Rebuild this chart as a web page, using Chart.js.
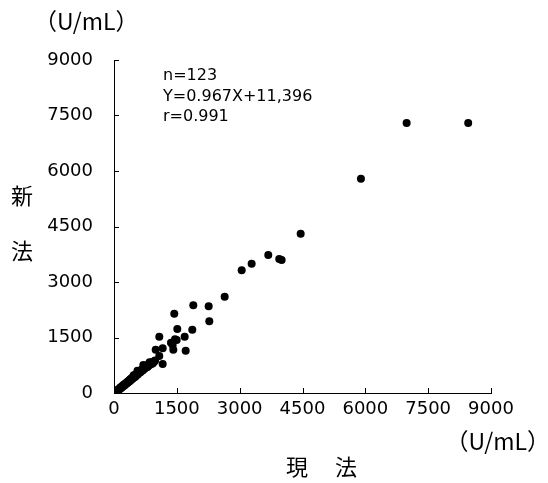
<!DOCTYPE html>
<html>
<head>
<meta charset="utf-8">
<script src="https://cdn.jsdelivr.net/npm/chart.js@4"></script>
<style>
  body { margin: 0; background: #fff; }
  #wrap { width: 548px; height: 483px; }
</style>
</head>
<body>
<div id="wrap"><canvas id="chartHoho" width="548" height="483"></canvas></div>
<script>
// ==================== DATOS ====================
// 現法 (x) vs 新法 (y), U/mL
const genhoX = [
  8456, 6986, 5895, 4456, 3683, 3945, 4002, 3286, 3048, 2642,
  1893, 2260, 2275, 1869, 1511, 1687, 1711, 1439, 1081, 1360,
  1456, 1496, 1162, 995, 1416, 1081, 1162, 1400,
  40, 60, 75, 90, 105, 120, 130, 145, 160, 170,
  185, 200, 210, 225, 240, 250, 265, 280, 290, 305,
  315, 330, 340, 355, 365, 380, 390, 400, 415, 425,
  435, 450, 460, 470, 480, 495, 505, 515, 525, 535,
  545, 555, 570, 580, 590, 600, 610, 620, 635, 645,
  655, 665, 680, 690, 700, 710, 720, 735, 745, 755,
  765, 780, 790, 800, 815, 825, 840, 850, 865, 880,
  895, 910, 930, 950, 970, 60, 100, 150, 200, 260,
  320, 380, 440, 500, 560, 620, 680, 740, 800, 860,
  920, 980, 700, 850, 560, 470
];
const shinhoY = [
  7300, 7300, 5790, 4305, 3730, 3620, 3595, 3495, 3316, 2603,
  2370, 2343, 1937, 1711, 1730, 1522, 1143, 2143, 1522, 1360,
  1451, 1432, 1207, 1171, 1171, 1000, 784, 1300,
  30, 55, 60, 85, 90, 110, 100, 140, 150, 135,
  175, 190, 180, 215, 220, 205, 250, 260, 240, 285,
  300, 290, 320, 330, 310, 360, 370, 345, 395, 400,
  380, 420, 440, 415, 455, 470, 445, 490, 500, 475,
  520, 530, 510, 550, 565, 540, 580, 595, 570, 615,
  625, 600, 640, 655, 630, 670, 690, 660, 705, 715,
  690, 735, 745, 720, 760, 775, 750, 790, 800, 780,
  820, 835, 810, 850, 860, 40, 70, 120, 160, 230,
  270, 330, 400, 430, 500, 560, 610, 680, 700, 770,
  800, 880, 760, 830, 600, 480
];
const ticksEixo = [0, 1500, 3000, 4500, 6000, 7500, 9000];
const textoStats = ['n=123', 'Y=0.967X+11,396', 'r=0.991'];

const pontos = genhoX.map((x, i) => ({ x: x, y: shinhoY[i] }));

const fonteNum = 'DejaVu Sans';
const fonteJp = '"Noto Sans CJK JP"';

// ==================== TEXTOS E TICKS INTERNOS ====================
const pluginTextos = {
  id: 'textos',
  afterDraw(chart) {
    const ctx = chart.ctx;
    const xs = chart.scales.x, ys = chart.scales.y;
    ctx.save();
    ctx.strokeStyle = '#000';
    ctx.lineWidth = 1;
    // ticks para dentro
    ticksEixo.forEach(v => {
      const px = Math.round(xs.getPixelForValue(v)) + 0.5;
      ctx.beginPath();
      ctx.moveTo(px, ys.bottom);
      ctx.lineTo(px, ys.bottom - 5);
      ctx.stroke();
      const py = Math.round(ys.getPixelForValue(v)) + 0.5;
      ctx.beginPath();
      ctx.moveTo(xs.left, py);
      ctx.lineTo(xs.left + 5, py);
      ctx.stroke();
    });

    ctx.fillStyle = '#000';
    ctx.textBaseline = 'middle';
    ctx.textAlign = 'left';
    ctx.font = '23px ' + fonteJp;
    ctx.fillText('（U/mL）', 34, 21);
    ctx.textAlign = 'right';
    ctx.fillText('（U/mL）', 550, 441);

    ctx.textAlign = 'center';
    ctx.font = '22px ' + fonteJp;
    ctx.fillText('新', 22, 196);
    ctx.fillText('法', 22, 251);
    ctx.fillText('現', 297, 467);
    ctx.fillText('法', 346, 467);

    ctx.textAlign = 'left';
    ctx.font = '16px ' + fonteNum;
    textoStats.forEach((t, i) => ctx.fillText(t, 163, 76 + i * 20.5));
    ctx.restore();
  }
};

// ==================== GRAFICO ====================
const cxHoho = document.getElementById('chartHoho');
const chtHoho = new Chart(cxHoho, {
  type: 'scatter',
  data: {
    datasets: [
      {
        label: '新法',
        data: pontos,
        backgroundColor: '#000',
        borderColor: '#000',
        pointRadius: 4,
        pointHoverRadius: 4,
        borderWidth: 0,
      },
    ]
  },
  options: {
    responsive: false,
    animation: false,
    layout: { padding: { left: 0, top: 60, right: 57, bottom: 0 } },
    scales: {
      x: {
        type: 'linear',
        min: 0,
        max: 9000,
        afterBuildTicks: s => { s.ticks = ticksEixo.map(v => ({ value: v })); },
        afterFit: s => { s.height = 90; },
        ticks: { color: '#000', padding: 6, maxRotation: 0, font: { family: fonteNum, size: 18 },
                 callback: v => String(v) },
        grid: { drawOnChartArea: false, drawTicks: false },
        border: { display: true, color: '#000', width: 1 },
      },
      y: {
        type: 'linear',
        min: 0,
        max: 9000,
        afterBuildTicks: s => { s.ticks = ticksEixo.map(v => ({ value: v })); },
        afterFit: s => { s.width = 114; },
        ticks: { color: '#000', padding: 21, font: { family: fonteNum, size: 18 },
                 callback: v => String(v) },
        grid: { drawOnChartArea: false, drawTicks: false },
        border: { display: true, color: '#000', width: 1 },
      },
    },
    plugins: {
      legend: { display: false },
      tooltip: { enabled: false },
    },
  },
  plugins: [pluginTextos]
});
</script>
</body>
</html>
